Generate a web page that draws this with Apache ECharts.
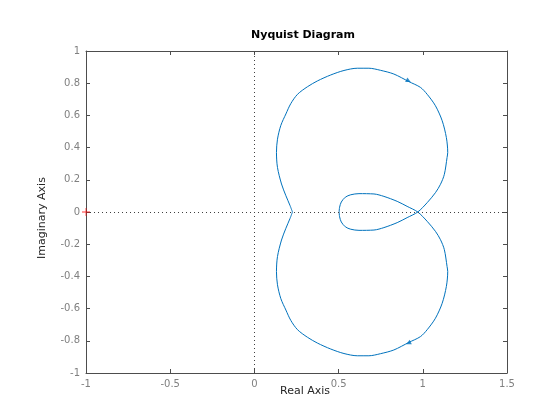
<!DOCTYPE html>
<html>
<head>
<meta charset="utf-8">
<script src="https://cdn.jsdelivr.net/npm/echarts@6/dist/echarts.min.js"></script>
<style>
  html, body { margin: 0; padding: 0; background: #fff; }
  #chart { width: 560px; height: 420px; }
</style>
</head>
<body>
<div id="chart"></div>
<script>
// positive-frequency branch (real / imaginary parts)
var reA = [0.503, 0.506, 0.516, 0.540, 0.572, 0.621, 0.71, 0.769, 0.848, 0.907, 0.970,
  1.026, 1.075, 1.105, 1.128, 1.144, 1.148, 1.14, 1.115, 1.075, 1.026, 0.986,
  0.917, 0.828, 0.749, 0.68, 0.611, 0.532, 0.453, 0.374, 0.315, 0.256, 0.216,
  0.187, 0.157, 0.137, 0.131, 0.137, 0.161, 0.187, 0.212, 0.226];
var imA = [0, 0.030, 0.062, 0.092, 0.107, 0.114, 0.112, 0.097, 0.066, 0.035, 0,
  -0.058, -0.12, -0.172, -0.234, -0.338, -0.37, -0.462, -0.567, -0.66, -0.731, -0.774,
  -0.81, -0.857, -0.88, -0.893, -0.893, -0.879, -0.851, -0.814, -0.778, -0.731, -0.673,
  -0.609, -0.538, -0.452, -0.37, -0.277, -0.174, -0.101, -0.039, 0];

// arrow positions (upper / lower branch)
var arrowRe = [0.915, 0.915];
var arrowIm = [0.815, -0.815];
var arrowRot = [-116.6, 116.6];

var xTicks = [-1, 1.5, 0.5];
var yTicks = [-1, 1, 0.2];

// positive branch and its mirror (negative frequencies)
var posLine = reA.map(function(r, i) { return [r, imA[i]]; });
var negLine = reA.map(function(r, i) { return [r, -imA[i]]; });

var lineColor = "#0072BD";
var axisColor = "#4d4d4d";
var labelColor = "#808080";
var font = "DejaVu Sans";

var myChart = echarts.init(document.getElementById("chart"));

var axisBase = {
  type: "value",
  axisLine: { show: true, onZero: false, lineStyle: { color: axisColor, width: 1 } },
  axisTick: { show: true, inside: true, length: 4, lineStyle: { color: axisColor } },
  splitLine: { show: false }
};

var option = {
  backgroundColor: "#ffffff",
  animation: false,
  grid: { left: 86, right: 53, top: 51, bottom: 47 },
  graphic: [
    {
      type: "text", x: 303, y: 35,
      style: { text: "Nyquist Diagram", font: "bold 11px " + font, fill: "#000",
        textAlign: "center", textVerticalAlign: "middle" }
    },
    {
      type: "text", x: 305, y: 391,
      style: { text: "Real Axis", font: "11px " + font, fill: "#262626",
        textAlign: "center", textVerticalAlign: "middle" }
    },
    {
      type: "text", x: 42.5, y: 218, rotation: Math.PI / 2,
      style: { text: "Imaginary Axis", font: "11px " + font, fill: "#262626",
        textAlign: "center", textVerticalAlign: "middle" }
    }
  ],
  xAxis: [
    Object.assign({}, axisBase, {
      min: xTicks[0], max: xTicks[1], interval: xTicks[2], position: "bottom",
      axisLabel: { color: labelColor, fontSize: 10, fontFamily: font, margin: 6 }
    }),
    Object.assign({}, axisBase, {
      min: xTicks[0], max: xTicks[1], interval: xTicks[2], position: "top",
      axisLabel: { show: false }
    })
  ],
  yAxis: [
    Object.assign({}, axisBase, {
      min: yTicks[0], max: yTicks[1], interval: yTicks[2], position: "left",
      axisLabel: { color: labelColor, fontSize: 10, fontFamily: font, margin: 6 }
    }),
    Object.assign({}, axisBase, {
      min: yTicks[0], max: yTicks[1], interval: yTicks[2], position: "right",
      axisLabel: { show: false }
    })
  ],
  series: [
    {
      // zero lines
      type: "line",
      data: [],
      markLine: {
        silent: true,
        symbol: ["none", "none"],
        label: { show: false },
        lineStyle: { color: "#404040", type: [1, 3], width: 1 },
        data: [{ xAxis: 0 }, { yAxis: 0 }]
      }
    },
    {
      type: "line",
      data: posLine,
      showSymbol: false,
      smooth: 0.3,
      lineStyle: { color: lineColor, width: 1 },
      z: 3
    },
    {
      type: "line",
      data: negLine,
      showSymbol: false,
      smooth: 0.3,
      lineStyle: { color: lineColor, width: 1 },
      z: 3
    },
    {
      type: "scatter",
      data: arrowRe.map(function(r, i) {
        return { value: [r, arrowIm[i]], symbolRotate: arrowRot[i] };
      }),
      symbol: "triangle",
      symbolSize: 5,
      itemStyle: { color: lineColor },
      z: 4
    },
    {
      // critical point -1
      type: "scatter",
      data: [[-1, 0]],
      symbol: "path://M0,4.5H10V5.5H0Z M4.5,0H5.5V10H4.5Z",
      symbolSize: 8,
      itemStyle: { color: "#ff0000" },
      z: 5
    }
  ]
};
myChart.setOption(option, true);
</script>
</body>
</html>
